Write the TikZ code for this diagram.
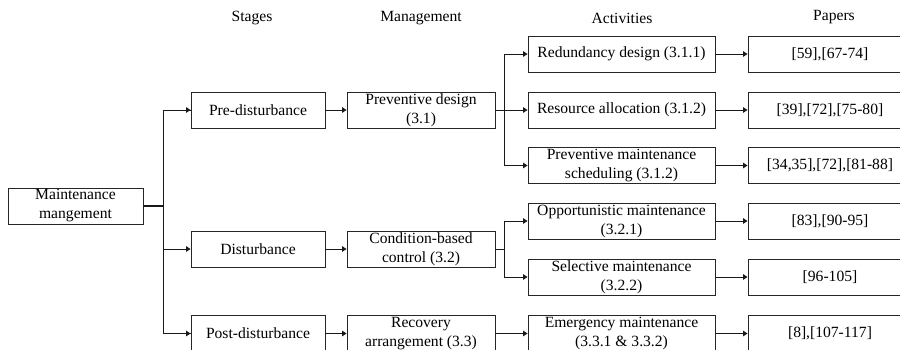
\documentclass[tikz,border=0pt]{standalone}
\usepackage{fontspec}
\setmainfont{Liberation Serif}
\usetikzlibrary{arrows.meta}
\begin{document}
\begin{tikzpicture}[x=1pt,y=-1pt,
  box/.style={draw=black!85,line width=0.9pt,inner sep=0pt,minimum height=36pt,align=center,
    font=\fontsize{15.6}{19}\selectfont},
  stagebox/.style={box,minimum width=134pt},
  mgmtbox/.style={box,minimum width=148pt},
  actbox/.style={box,minimum width=187pt},
  paperbox/.style={box,minimum width=164pt},
  head/.style={font=\fontsize{15.6}{19}\selectfont},
  conn/.style={line width=1pt,black!90},
  arr/.style={conn,-{Triangle[length=4.5pt,width=5.5pt]}},
]
\clip (0,0) rectangle (900,349);
\useasboundingbox (0,0) rectangle (900,349);
% headings
\node[head] (h1) at (252,18) {Stages};
\node[head] (h2) at (421,18) {Management};
\node[head] (h3) at (622,18) {Activities};
\node[head] (h4) at (834,17) {Papers};
% root
\node[box,minimum width=135pt] (root) at (75.5,206) {Maintenance\\mangement};
% stages
\node[stagebox] (s1) at (258,110) {Pre-disturbance};
\node[stagebox] (s2) at (258,249) {Disturbance};
\node[stagebox] (s3) at (258,333.5) {Post-disturbance};
% management
\node[mgmtbox] (m1) at (421,110) {Preventive design\\(3.1)};
\node[mgmtbox] (m2) at (421,249) {Condition-based\\control (3.2)};
\node[mgmtbox] (m3) at (421,333.5) {Recovery\\arrangement (3.3)};
% activities
\node[actbox] (a1) at (621.5,54) {Redundancy design (3.1.1)};
\node[actbox] (a2) at (621.5,110) {Resource allocation (3.1.2)};
\node[actbox] (a3) at (621.5,165.5) {Preventive maintenance\\scheduling (3.1.2)};
\node[actbox] (a4) at (621.5,221) {Opportunistic maintenance\\(3.2.1)};
\node[actbox] (a5) at (621.5,277) {Selective maintenance\\(3.2.2)};
\node[actbox] (a6) at (621.5,333.5) {Emergency maintenance\\(3.3.1 \& 3.3.2)};
% papers
\node[paperbox] (p1) at (830,54) {[59],[67-74]};
\node[paperbox] (p2) at (830,110) {[39],[72],[75-80]};
\node[paperbox] (p3) at (830,165.5) {[34,35],[72],[81-88]};
\node[paperbox] (p4) at (830,221) {[83],[90-95]};
\node[paperbox] (p5) at (830,277) {[96-105]};
\node[paperbox] (p6) at (830,333.5) {[8],[107-117]};
% trunk from root
\coordinate (t0) at (163,206);
\draw[conn,line width=1.6pt] (root.east) -- (t0);
\draw[conn] (t0) |- (s1.west);
\draw[arr] (t0 |- s1.west) -- (s1.west);
\draw[conn] (t0) |- (s3.west);
\draw[arr] (t0 |- s2.west) -- (s2.west);
\draw[arr] (t0 |- s3.west) -- (s3.west);
% stage to management
\draw[arr] (s1) -- (m1);
\draw[arr] (s2) -- (m2);
\draw[arr] (s3) -- (m3);
% management to activities
\coordinate (b1) at (504,110);
\draw[conn] (m1.east) -- (b1);
\draw[conn] (b1 |- a1.west) -- (b1 |- a3.west);
\draw[arr] (b1 |- a1.west) -- (a1.west);
\draw[arr] (b1) -- (a2.west);
\draw[arr] (b1 |- a3.west) -- (a3.west);
\coordinate (b2) at (504,249);
\draw[conn] (m2.east) -- (b2);
\draw[conn] (b2 |- a4.west) -- (b2 |- a5.west);
\draw[arr] (b2 |- a4.west) -- (a4.west);
\draw[arr] (b2 |- a5.west) -- (a5.west);
\draw[arr] (m3) -- (a6);
% activities to papers
\foreach \i in {1,...,6} {\draw[arr] (a\i) -- (p\i);}
\end{tikzpicture}
\end{document}
